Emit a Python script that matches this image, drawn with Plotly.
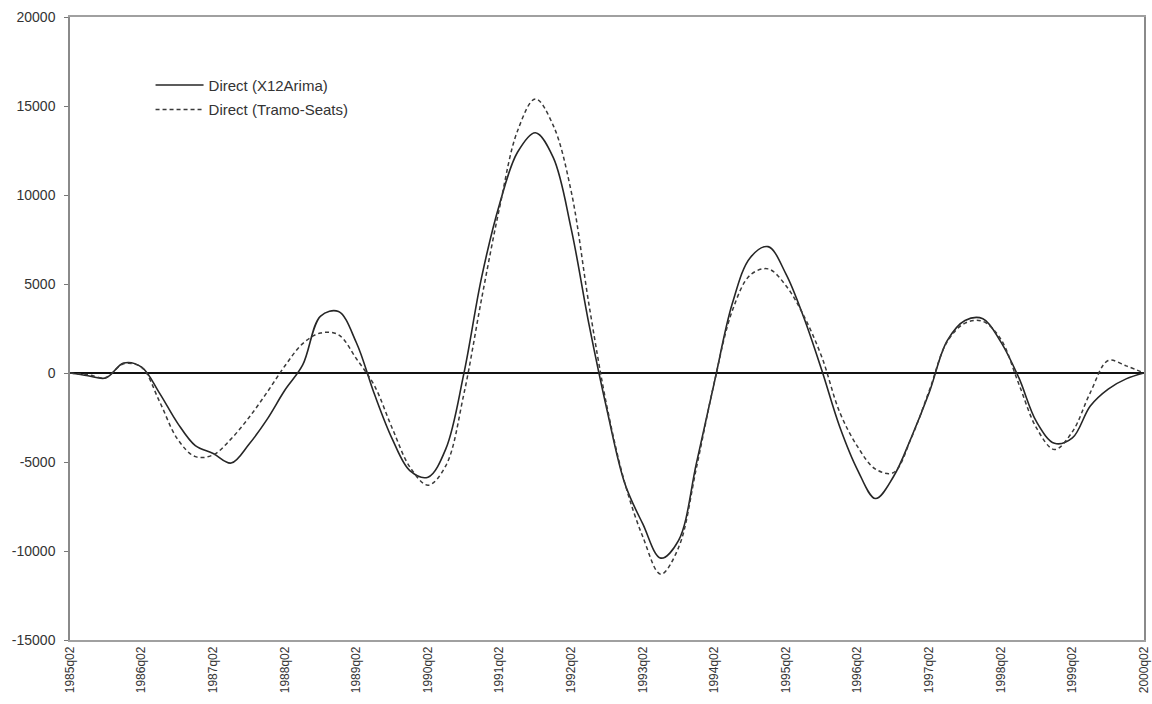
import plotly.graph_objects as go

# Quarterly periods, 1985q02 .. 2000q02
quarters = [f"{1985 + (q + 1) // 4}q0{(q + 1) % 4 + 1}" for q in range(61)]
tick_labels = [f"{y}q02" for y in range(1985, 2001)]
y_ticks = [-15000, -10000, -5000, 0, 5000, 10000, 15000, 20000]

# Direct seasonal adjustment, X12Arima
x12arima = [
    0, -150, -280, 560, 330, -1130, -2800, -4080, -4520, -5060,
    -4000, -2620, -970, 450, 3200, 3450, 1700, -1170, -3700, -5500,
    -5850, -4250, -50, 5400, 9500, 12400, 13500, 12100, 8100, 2700,
    -2080, -6220, -8480, -10400, -9400, -5050, -510, 3900, 6480, 7100,
    5560, 3100, 150, -3020, -5450, -7050, -5830, -3620, -1100, 1800,
    2950, 3050, 1750, -250, -2750, -3950, -3650, -1850, -900, -330, 0,
]

# Direct seasonal adjustment, Tramo-Seats
tramo_seats = [
    0, -100, -250, 520, 320, -1600, -3700, -4700, -4600, -3700,
    -2500, -1100, 390, 1650, 2250, 2150, 800, -700, -3100, -5300,
    -6300, -5200, -1200, 4200, 9300, 13600, 15400, 13900, 10200, 3800,
    -1900, -6200, -9200, -11300, -9800, -5300, -500, 3500, 5500, 5850,
    4900, 3200, 900, -2200, -4140, -5400, -5600, -3650, -1000, 1750,
    2800, 2900, 1900, -600, -3100, -4300, -3300, -1100, 700, 400, 0,
]

xs = list(range(len(quarters)))
tick_pos = [quarters.index(t) for t in tick_labels]

fig = go.Figure()
fig.add_trace(go.Scatter(
    x=xs, y=x12arima, mode="lines", name="Direct (X12Arima)",
    line=dict(color="#262626", width=1.6, shape="spline", smoothing=1.0),
    legendgroup="a",
))
fig.add_trace(go.Scatter(
    x=xs, y=tramo_seats, mode="lines", name="Direct (Tramo-Seats)",
    line=dict(color="#3a3a3a", width=1.5, dash="4px,3px", shape="spline", smoothing=1.0),
    legendgroup="b",
))

fig.update_layout(
    width=1152, height=704,
    margin=dict(l=70, r=8, t=17, b=64, autoexpand=False),
    paper_bgcolor="white", plot_bgcolor="white",
    font=dict(family="Liberation Sans, Arial, sans-serif", color="#333333"),
    showlegend=True,
    legend=dict(
        x=0.075, y=0.917, xanchor="left", yanchor="top",
        bgcolor="rgba(0,0,0,0)", borderwidth=0,
        font=dict(size=15, color="#333333"),
        itemwidth=48,
        tracegroupgap=2,
    ),
    xaxis=dict(
        range=[0, len(quarters) - 1],
        tickmode="array", tickvals=tick_pos, ticktext=tick_labels,
        tickangle=-90, tickfont=dict(size=12, color="#333333"),
        ticklabeloverflow="allow",
        showgrid=False, zeroline=False, automargin=False,
        showline=True, linecolor="#a0a0a0", linewidth=1.5, mirror=True,
        ticks="", fixedrange=True,
    ),
    yaxis=dict(
        range=[-15000, 20000],
        tickmode="array", tickvals=y_ticks, ticktext=[str(v) for v in y_ticks],
        tickfont=dict(size=14, color="#333333"),
        ticklabelstandoff=6,
        showgrid=False, automargin=False,
        zeroline=True, zerolinecolor="#111111", zerolinewidth=1.6,
        showline=True, linecolor="#8a8a8a", linewidth=1.5, mirror=True,
        ticks="outside", ticklen=4, tickcolor="#777777",
        fixedrange=True,
    ),
)

fig.write_html("out.html")
